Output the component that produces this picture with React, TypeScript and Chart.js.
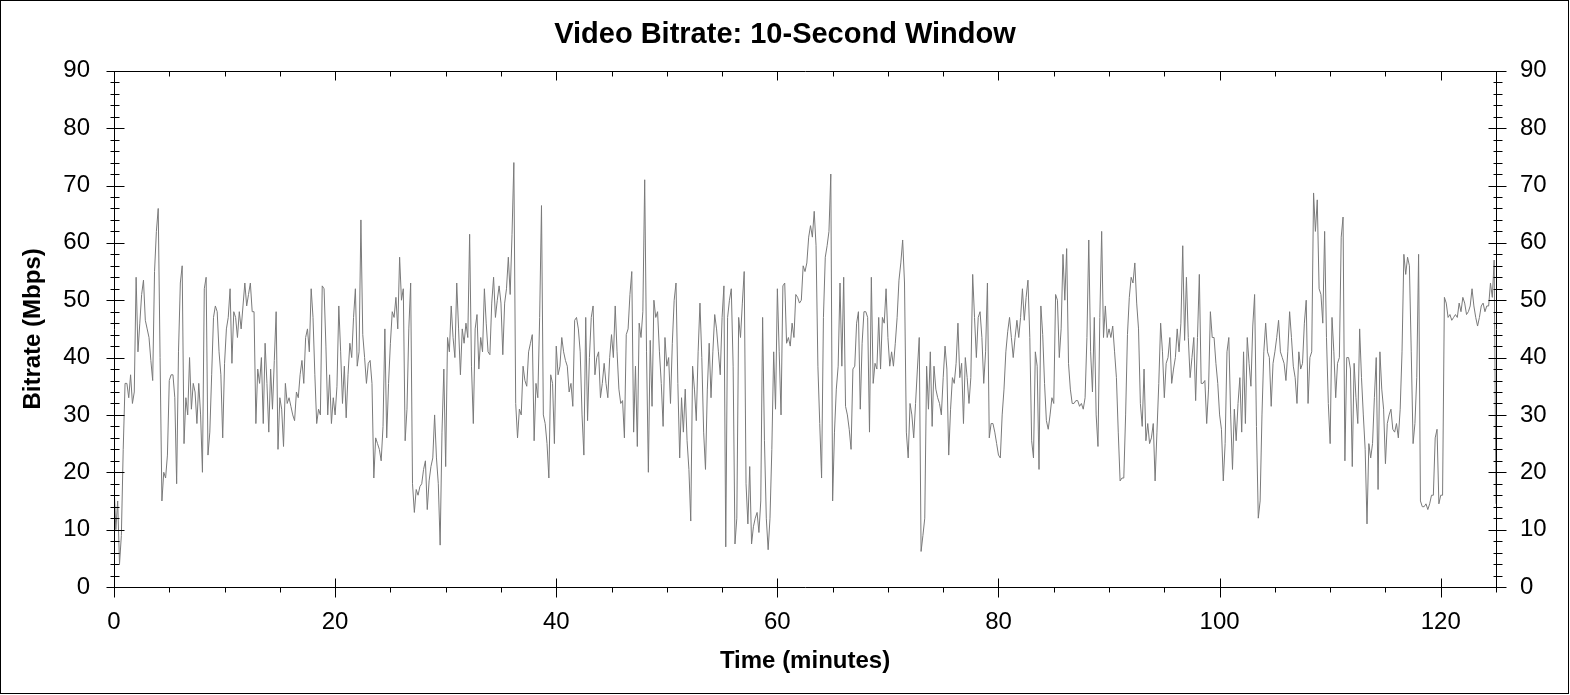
import React, { useEffect, useRef } from "react";
import { Chart, registerables } from "chart.js";

Chart.register(...registerables);

const TITLE = "Video Bitrate: 10-Second Window";
const X_TITLE = "Time (minutes)";
const Y_TITLE = "Bitrate (Mbps)";

const SAMPLE_MINUTES = 1 / 6; // one value per 10-second window
const X_MAX = 125;
const Y_MAX = 90;
const xTickValues = [0, 20, 40, 60, 80, 100, 120];
const X_MINOR_STEP = 5;
const X_MAJOR_STEP = 20;
const Y_MAJOR_STEP = 10;
const Y_MINOR_STEP = 2;

// Bitrate (Mbps), minutes 0 - 20.7
const bitrateA = [
  18, 10, 15, 4, 9, 24, 35.5, 35.5, 33, 37,
  32, 34, 54, 41, 46, 51, 53.5, 46.5, 45, 43.5,
  39.5, 36, 55, 62, 66, 40, 15, 20, 19, 23,
  36, 37, 37, 33, 18, 41, 53, 56, 25, 33,
  30, 40, 31, 35.5, 34, 28.5, 35.5, 30, 20, 52,
  54, 23, 27, 37, 47, 49, 48, 41, 37, 26,
  39, 45, 47, 52, 39, 48, 47, 43.5, 48, 45,
  49, 53, 49, 51, 53, 48, 48, 28.5, 38, 35.5,
  40, 28.5, 42.5, 35.5, 27, 38, 31, 39.5, 48, 24,
  33, 31, 24.5, 35.5, 32, 33, 31.5, 30, 29, 34,
  33, 37, 39.5, 35.5, 43.5, 45, 41, 52, 47, 37,
  28.5, 31, 30, 52.5, 52, 42, 30, 37, 28.5, 33,
  30, 35, 49, 41, 32,
];

// minutes 20.8 - 41.7
const bitrateB = [
  38.5, 29.5, 37, 42.5, 40, 47, 52, 38.5, 41, 64,
  44, 40, 35.5, 39, 39.5, 35.5, 19, 26, 25, 24,
  22, 28, 45, 26, 35.5, 42.5, 48, 47, 50.5, 45,
  57.5, 50, 52, 25.5, 31, 45, 53, 18, 13, 17,
  16, 17.5, 18, 20.5, 22, 13.5, 18.5, 21, 22.5, 30,
  22.5, 18, 7.3, 27, 38, 21, 43.5, 41, 49, 43.5,
  40, 53, 45, 37, 45, 42.5, 46, 43.5, 61.5, 38.5,
  28.5, 45, 47.5, 38, 43.5, 41, 52, 46, 41, 40.5,
  49.5, 54, 47, 50, 52.5, 49.5, 40.5, 49.5, 52, 57.5,
  51, 61.5, 74, 32, 26, 31, 30, 38.5, 36, 35,
  41, 42.5, 44, 25.5, 35.5, 33, 47, 66.5, 30, 28.5,
  25, 19, 37, 35.5, 25, 42, 37, 38.5, 43.5, 41,
  39.5, 38.5, 34, 35.5, 31.5, 46.5,
];

// minutes 41.8 - 62.5
const bitrateC = [
  47, 45, 41, 30, 23, 47, 29, 40, 47, 49,
  37, 40, 41, 33, 35.5, 39, 35.5, 33, 40, 44,
  40, 49, 41, 34.5, 32, 32.5, 26, 44, 45, 51,
  55, 27, 38.5, 24.5, 46, 43.5, 48, 71, 41, 20,
  43, 31.5, 50, 47, 48, 41, 35.5, 28, 43.5, 38.5,
  40, 32, 42.5, 50, 53, 35.5, 22.5, 33, 27, 34.5,
  25.5, 20.5, 11.5, 38.5, 34.5, 29, 41, 49.5, 40, 27,
  20.5, 34.5, 42.5, 33, 41, 47.5, 45, 41, 37, 47,
  52.5, 7, 47, 50, 52, 38.5, 7.5, 12, 47, 43.5,
  49.5, 55, 18, 11, 21, 7.5, 10.5, 12, 13, 9.5,
  15, 47, 25.5, 12, 6.5, 12, 24, 41, 31, 52,
  41, 30, 52.5, 53, 42.5, 43.5, 42, 46, 43.5, 51,
  50.5, 49.5, 50, 56, 55,
];

// minutes 62.7 - 83.3
const bitrateD = [
  56.5, 61, 63, 61, 65.5, 59.5, 38.5, 28.5, 19, 47,
  57.5, 59.5, 62, 72, 15, 27, 34.5, 38.5, 53, 38.5,
  54, 31.5, 30, 27.5, 24, 38, 38.5, 46, 48, 31,
  42.5, 48, 48, 47, 27, 54, 35.5, 39, 38, 47,
  38, 47, 46, 52, 43.5, 38.5, 41, 38.5, 42.5, 47,
  53.5, 56.5, 60.5, 53, 27, 22.5, 32, 30, 26, 32,
  38, 43.5, 6.2, 9, 12, 38.5, 31, 41, 28, 38.5,
  34.5, 33, 32, 30, 36.5, 42, 38, 23, 31, 36.5,
  35.5, 39, 46, 36.5, 39, 28.5, 40, 36.5, 32, 36.5,
  54.5, 47, 40, 47, 48, 43.5, 35.5, 41, 53, 26,
  28.5, 28.5, 27, 25, 23, 22.5, 30, 34.5, 41, 44.5,
  47, 43.5, 40, 43.5, 46.5, 43.5, 47, 52, 46.5, 50.5,
  53.5, 43.5, 25.5, 22.5, 41,
];

// minutes 83.5 - 104.2
const bitrateE = [
  38.5, 20.5, 49, 44, 35.5, 29, 27.5, 30, 33, 32,
  51, 50, 40, 45, 58, 50, 59, 39, 34.5, 32,
  32, 32.5, 32.5, 31.5, 32, 31, 33, 43.5, 60.5, 41,
  34, 47, 30, 24.5, 47, 62, 43.5, 49, 43.5, 45,
  43.5, 45.5, 41, 36.5, 27, 18.5, 19, 19, 30, 44,
  50.5, 54, 53, 56.5, 49.5, 45, 32, 28, 38, 25.5,
  28.5, 25, 26, 28.5, 18.5, 27, 35.5, 46, 41, 33,
  39, 40, 43.5, 35.5, 38, 40, 45, 41, 46, 59.5,
  43, 54, 43.5, 36.5, 40, 43.5, 32.5, 43.5, 54.5, 35.5,
  35.5, 36, 28.5, 34.5, 48, 43.5, 43.5, 39, 35.5, 30,
  27.5, 18.5, 25, 41, 43.5, 30, 20.5, 31, 25.5, 32,
  36.5, 27, 41, 28.5, 43.5, 39, 35, 45.5, 51, 28,
  12, 15, 30, 41, 46,
];

// minutes 104.3 - 125
const bitrateF = [
  41, 40, 31.5, 39, 41, 43.5, 46.5, 41, 40, 39,
  36, 41, 48, 43.5, 38.5, 36.5, 32, 41, 38, 39,
  46, 50, 32, 40, 41, 68.7, 62, 67.5, 52, 51,
  46, 62, 43.5, 32, 25, 47, 41, 33, 39, 40,
  61, 64.5, 22, 40, 40, 38, 21, 39, 33, 28.5,
  45, 36.5, 30, 24, 11, 25, 22.5, 25, 33, 40,
  17, 41, 34.5, 31, 21.5, 28.5, 30, 31, 27.5, 27,
  28.5, 26, 31, 41, 58, 54.5, 57.5, 56, 41, 25,
  28.5, 36.5, 58, 15, 14, 14, 14.5, 13.5, 14.5, 16,
  16, 26, 27.5, 14.5, 16, 16, 50.5, 49.5, 47, 47.5,
  46.5, 47, 47.5, 47, 49.5, 48, 50.5, 49.5, 47.5, 48,
  49, 52, 49, 47, 45.5, 47, 49, 49.5, 48, 49,
  49, 53, 50.5, 57, 14.5,
];

const bitrate = [...bitrateA, ...bitrateB, ...bitrateC, ...bitrateD, ...bitrateE, ...bitrateF];
const timeMinutes = bitrate.map((_, i) => i * SAMPLE_MINUTES);

const FONT = "'Liberation Sans', Arial, sans-serif";

const axisFramePlugin = {
  id: "axisFrame",
  afterDatasetsDraw(chart: any) {
    const { ctx, chartArea } = chart;
    const xs = chart.scales.x;
    const ys = chart.scales.y;
    const p = (v: number) => Math.round(v) + 0.5;
    const L = p(chartArea.left);
    const R = p(chartArea.right);
    const T = p(chartArea.top);
    const B = p(chartArea.bottom);
    ctx.save();
    ctx.strokeStyle = "#000";
    ctx.lineWidth = 1;
    ctx.beginPath();
    ctx.moveTo(L, T);
    ctx.lineTo(R, T);
    ctx.lineTo(R, B);
    ctx.lineTo(L, B);
    ctx.closePath();
    for (let v = 0; v <= Y_MAX + 1e-9; v += Y_MINOR_STEP) {
      const yy = p(ys.getPixelForValue(v));
      if (v % Y_MAJOR_STEP === 0) {
        ctx.moveTo(L - 8, yy);
        ctx.lineTo(L + 10, yy);
        ctx.moveTo(R - 8, yy);
        ctx.lineTo(R + 10, yy);
      } else {
        ctx.moveTo(L - 4, yy);
        ctx.lineTo(L + 5, yy);
        ctx.moveTo(R - 3, yy);
        ctx.lineTo(R + 6, yy);
      }
    }
    for (let v = 0; v <= X_MAX + 1e-9; v += X_MINOR_STEP) {
      const xx = p(xs.getPixelForValue(v));
      if (v % X_MAJOR_STEP === 0) {
        ctx.moveTo(xx, B - 9);
        ctx.lineTo(xx, B + 10);
        ctx.moveTo(xx, T);
        ctx.lineTo(xx, T + 9);
      } else {
        ctx.moveTo(xx, B);
        ctx.lineTo(xx, B + 5);
        ctx.moveTo(xx, T);
        ctx.lineTo(xx, T + 5);
      }
    }
    ctx.stroke();
    ctx.strokeRect(0.5, 0.5, chart.width - 2, chart.height - 2);
    ctx.restore();
  },
};

export default function App() {
  const canvasRef = useRef<HTMLCanvasElement | null>(null);

  useEffect(() => {
    document.body.style.margin = "0";
    const canvas = canvasRef.current;
    if (!canvas) return;
    const tickFont = { family: FONT, size: 24 };
    const titleFont = { family: FONT, size: 24, weight: "bold" as const };
    const chart = new Chart(canvas, {
      type: "line",
      data: {
        datasets: [
          {
            label: "Bitrate",
            data: timeMinutes.map((t, i) => ({ x: t, y: bitrate[i] })),
            borderColor: "#7a7a7a",
            borderWidth: 1,
            pointRadius: 0,
            tension: 0,
            fill: false,
          },
        ],
      },
      options: {
        animation: false,
        responsive: false,
        events: [],
        layout: { padding: 0 },
        plugins: {
          legend: { display: false },
          tooltip: { enabled: false },
          title: {
            display: true,
            text: TITLE,
            color: "#000",
            font: { family: FONT, size: 29, weight: "bold" },
            padding: { top: 18, bottom: 18 },
          },
        },
        scales: {
          x: {
            type: "linear",
            position: "bottom",
            min: 0,
            max: X_MAX,
            afterBuildTicks: (s: any) => {
              s.ticks = xTickValues.map((value) => ({ value }));
            },
            afterFit: (s: any) => {
              s.height = 108;
            },
            grid: { display: false, drawTicks: false },
            border: { display: false },
            ticks: { font: tickFont, color: "#000", padding: 21, maxRotation: 0, autoSkip: false },
            title: {
              display: true,
              text: X_TITLE,
              color: "#000",
              font: titleFont,
              padding: { top: 0, bottom: 19 },
            },
          },
          y: {
            type: "linear",
            position: "left",
            min: 0,
            max: Y_MAX,
            afterFit: (s: any) => {
              s.width = 114;
            },
            grid: { display: false, drawTicks: false },
            border: { display: false },
            ticks: { stepSize: Y_MAJOR_STEP, font: tickFont, color: "#000", padding: 24 },
            title: {
              display: true,
              text: Y_TITLE,
              color: "#000",
              font: titleFont,
              padding: { top: 19, bottom: 0 },
            },
          },
          y2: {
            type: "linear",
            position: "right",
            min: 0,
            max: Y_MAX,
            afterFit: (s: any) => {
              s.width = 74;
            },
            grid: { display: false, drawTicks: false },
            border: { display: false },
            ticks: { stepSize: Y_MAJOR_STEP, font: tickFont, color: "#000", padding: 24 },
          },
        },
      },
      plugins: [axisFramePlugin],
    });
    return () => chart.destroy();
  }, []);

  return (
    <div style={{ position: "relative", width: 1570, height: 695 }}>
      <canvas ref={canvasRef} width={1570} height={695} style={{ display: "block" }} />
    </div>
  );
}
